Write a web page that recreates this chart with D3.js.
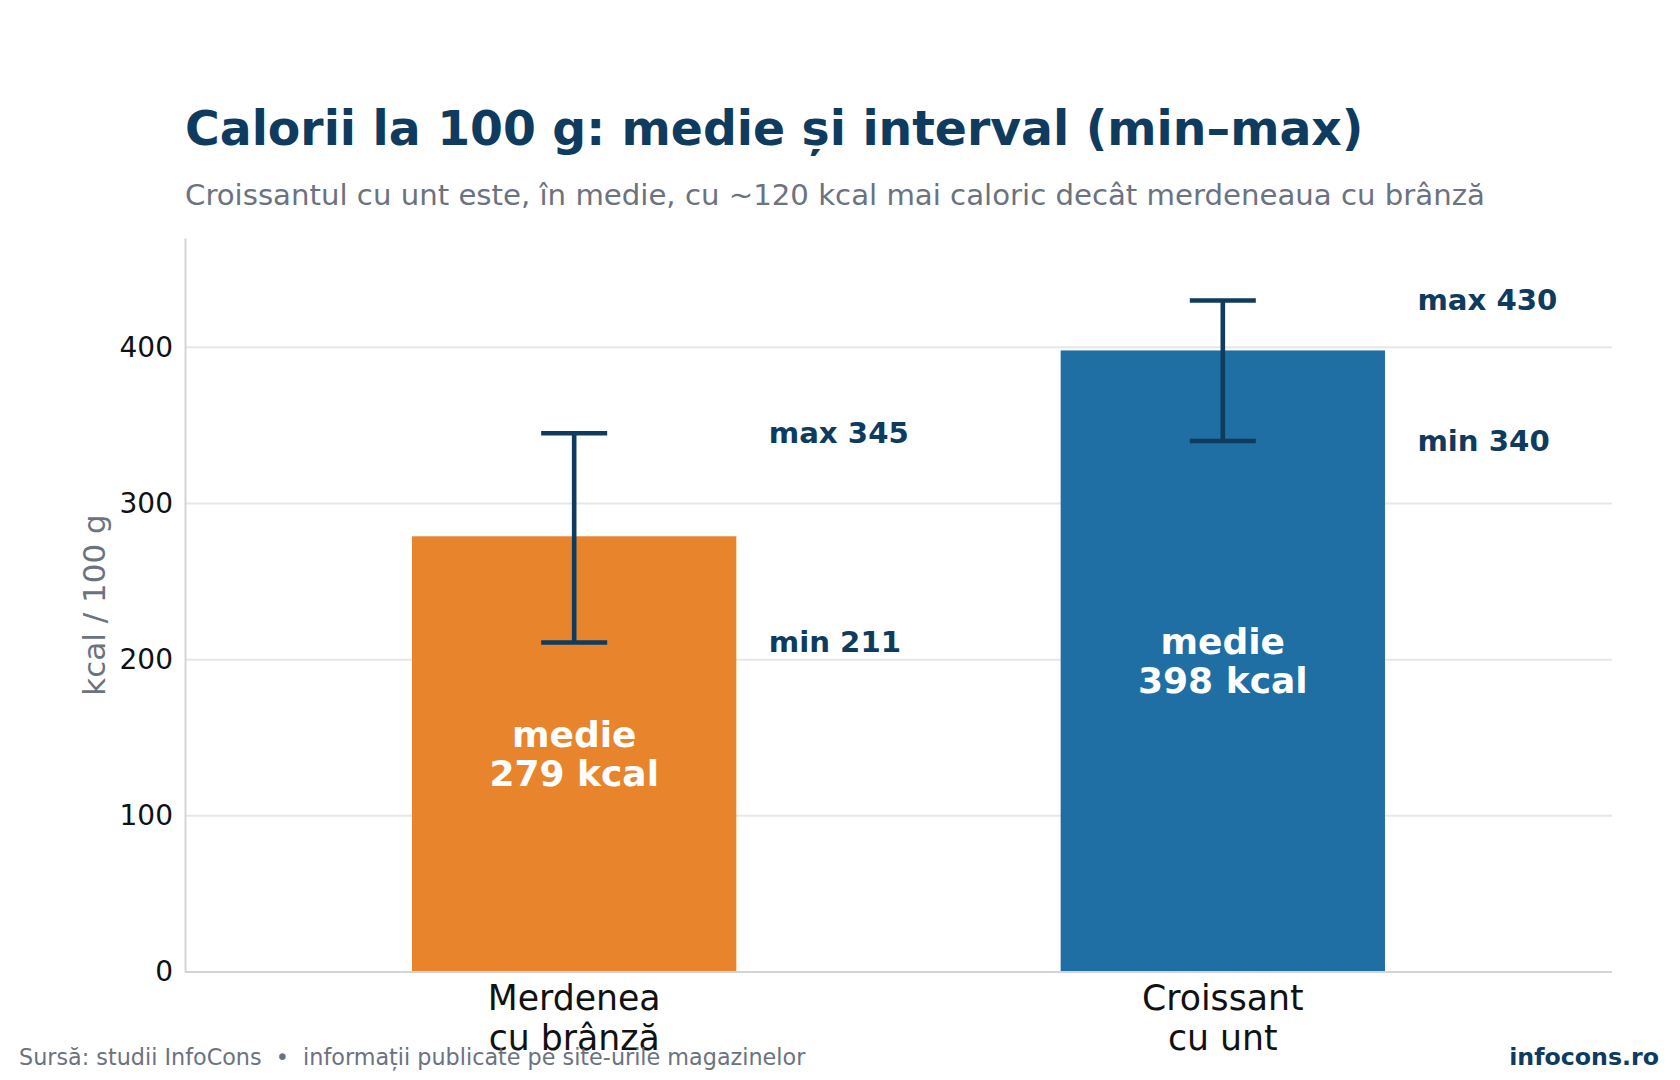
<!DOCTYPE html>
<html><head><meta charset="utf-8">
<script src="https://cdn.jsdelivr.net/npm/d3@7"></script>
<style>
html,body{margin:0;padding:0;background:#fff;}
svg{display:block;font-family:"DejaVu Sans",sans-serif;}
</style></head>
<body>
<script>
const categories = ["Merdenea\ncu brânză", "Croissant\ncu unt"];
const means = [279, 398];
const mins = [211, 340];
const maxs = [345, 430];
const barColors = ["#E8842C", "#1F6FA5"];
const yTicks = [0, 100, 200, 300, 400];

const W = 1680, H = 1080;
const m = {left: 185, right: 1612, top: 238, bottom: 972};
const navy = "#0E3B5E", grey = "#6B7280";

const svg = d3.select("body").append("svg").attr("width", W).attr("height", H);

const x = d3.scaleLinear().domain([-0.6, 1.6]).range([m.left, m.right]);
const y = d3.scaleLinear().domain([0, 470]).range([m.bottom, m.top]);

// title
svg.append("text").attr("x", 185).attr("y", 145)
  .attr("font-size", 47.3).attr("font-weight", "bold").attr("fill", navy)
  .text("Calorii la 100 g: medie și interval (min–max)");
svg.append("text").attr("x", 185).attr("y", 205)
  .attr("font-size", 29.2).attr("fill", grey)
  .text("Croissantul cu unt este, în medie, cu ~120 kcal mai caloric decât merdeneaua cu brânză");

// grid
const g = svg.append("g");
g.selectAll("line.grid").data(yTicks.filter(d => d > 0)).join("line")
  .attr("x1", m.left).attr("x2", m.right)
  .attr("y1", d => y(d)).attr("y2", d => y(d))
  .attr("stroke", "#E5E7EB").attr("stroke-width", 2);

// bars
g.selectAll("rect.bar").data(means).join("rect")
  .attr("x", (d, i) => x(i - 0.25)).attr("width", (d, i) => x(i + 0.25) - x(i - 0.25))
  .attr("y", d => y(d)).attr("height", d => y(0) - y(d))
  .attr("fill", (d, i) => barColors[i]);

// y axis
const yAxis = d3.axisLeft(y).tickValues(yTicks).tickSize(0).tickPadding(12);
const ya = svg.append("g").attr("transform", `translate(${m.left},0)`).call(yAxis);
ya.select(".domain").attr("stroke", "#D1D5DB").attr("stroke-width", 2);
ya.selectAll("text").attr("font-size", 28).attr("fill", "#111").attr("font-family", "DejaVu Sans");

// x axis baseline
svg.append("line").attr("x1", m.left).attr("x2", m.right).attr("y1", y(0)).attr("y2", y(0))
  .attr("stroke", "#D1D5DB").attr("stroke-width", 2);

// y label
svg.append("text").attr("transform", `translate(94,${(m.top + m.bottom) / 2}) rotate(-90)`)
  .attr("text-anchor", "middle").attr("dominant-baseline", "central")
  .attr("font-size", 31).attr("fill", grey).text("kcal / 100 g");

// x tick labels
categories.forEach((c, i) => {
  const t = svg.append("text").attr("x", x(i)).attr("y", 1010).attr("text-anchor", "middle")
    .attr("font-size", 34.7).attr("fill", "#111");
  c.split("\n").forEach((line, j) => {
    t.append("tspan").attr("x", x(i)).attr("dy", j === 0 ? 0 : 39.5).text(line);
  });
});

// error bars
const eb = svg.append("g").attr("stroke", navy).attr("stroke-width", 4.6);
means.forEach((d, i) => {
  eb.append("line").attr("x1", x(i)).attr("x2", x(i)).attr("y1", y(mins[i])).attr("y2", y(maxs[i]));
  [mins[i], maxs[i]].forEach(v => {
    eb.append("line").attr("x1", x(i) - 33).attr("x2", x(i) + 33).attr("y1", y(v)).attr("y2", y(v));
  });
});

// min/max labels
means.forEach((d, i) => {
  [["max ", maxs[i]], ["min ", mins[i]]].forEach(([p, v]) => {
    svg.append("text").attr("x", x(i + 0.3)).attr("y", y(v) + 9.5)
      .attr("font-size", 29.2).attr("font-weight", "bold").attr("fill", navy)
      .text(p + v);
  });
});

// mean labels inside bars
means.forEach((d, i) => {
  const yc = y(d / 2);
  const t = svg.append("text").attr("text-anchor", "middle").attr("font-size", 36)
    .attr("font-weight", "bold").attr("fill", "#fff");
  t.append("tspan").attr("x", x(i)).attr("y", yc - 7).text("medie");
  t.append("tspan").attr("x", x(i)).attr("y", yc + 32).text(d + " kcal");
});

// footer
svg.append("text").attr("x", 19).attr("y", 1065).attr("font-size", 22.3).attr("fill", grey)
  .attr("xml:space", "preserve")
  .text("Sursă: studii InfoCons  •  informații publicate pe site-urile magazinelor");
svg.append("text").attr("x", 1659).attr("y", 1065).attr("text-anchor", "end")
  .attr("font-size", 23.7).attr("font-weight", "bold").attr("fill", navy).text("infocons.ro");
</script>
</body></html>
